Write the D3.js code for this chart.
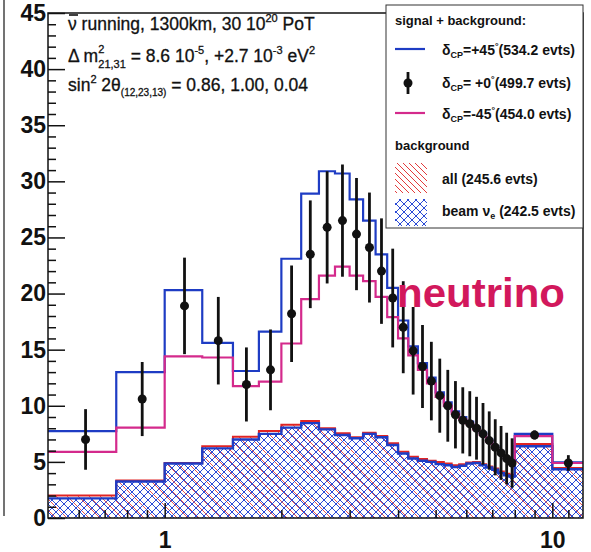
<!DOCTYPE html>
<html>
<head>
<meta charset="utf-8">
<script src="https://cdn.jsdelivr.net/npm/d3@7"></script>
<style>
  body { margin: 0; background: #fff; }
  svg { display: block; }
  text { font-family: "Liberation Sans", Arial, sans-serif; }
</style>
</head>
<body>
<div id="chart"></div>
<script>
// bin edges in GeV (0.25 wide up to 8, then 8-10, 10-12)
const binEdges = [0.5, 0.75, 1, 1.25, 1.5, 1.75, 2, 2.25, 2.5, 2.75, 3, 3.25, 3.5, 3.75,
  4, 4.25, 4.5, 4.75, 5, 5.25, 5.5, 5.75, 6, 6.25, 6.5, 6.75, 7, 7.25, 7.5, 7.75, 8, 10, 12];

// signal + background, delta_CP = +45 (blue)
const plus45 = [7.75, 13.0, 20.3, 15.6, 13.1, 16.6, 23.1, 28.9, 30.9, 30.7, 28.4, 26.5, 23.5, 20.5,
  17.6, 15.3, 13.8, 12.5, 11.2, 10.3, 9.5, 9.0, 8.6, 8.1, 7.6, 7.0, 6.4, 5.9, 5.4, 5.0, 7.5, 4.95];
// delta_CP = -45 (magenta)
const minus45 = [5.9, 8.05, 14.4, 14.3, 11.75, 12.15, 15.55, 19.5, 21.6, 22.4, 21.6, 21.1, 19.7, 17.9,
  16.0, 14.5, 13.2, 12.0, 10.8, 10.0, 9.3, 8.8, 8.4, 7.9, 7.4, 6.8, 6.2, 5.8, 5.3, 4.9, 7.3, 4.9];
// delta_CP = 0, points with error bars
const dataVals = [7.0, 10.6, 18.9, 15.8, 11.9, 13.2, 18.2, 23.5, 25.9, 26.5, 25.3, 24.1, 22.0, 19.6,
  17.0, 14.9, 13.5, 12.2, 10.9, 10.0, 9.2, 8.7, 8.4, 8.0, 7.5, 6.9, 6.3, 5.8, 5.3, 4.9, 7.4, 4.9];
const dataErr = [2.7, 3.3, 4.3, 3.9, 3.3, 3.6, 4.3, 4.8, 5.0, 5.0, 5.0, 4.9, 4.7, 4.4,
  4.1, 3.9, 3.7, 3.5, 3.3, 3.2, 3.0, 2.95, 2.9, 2.8, 2.75, 2.6, 2.5, 2.4, 2.3, 2.2, 0.4, 0.7];
// background: all (red) and beam nu_e (blue cross-hatch)
const bkgAll = [2.0, 3.35, 4.9, 6.4, 7.25, 7.75, 8.3, 8.65, 8.0, 7.55, 7.2, 7.6, 7.3, 6.65,
  5.9, 5.45, 5.25, 5.1, 5.0, 4.85, 4.7, 4.8, 4.95, 5.0, 4.8, 4.6, 4.4, 4.15, 3.95, 3.85, 6.6, 4.45];
const bkgBeam = [1.75, 3.25, 4.85, 6.2, 7.0, 7.5, 8.05, 8.45, 7.9, 7.4, 7.1, 7.5, 7.2, 6.5,
  5.75, 5.3, 5.1, 5.0, 4.8, 4.7, 4.55, 4.65, 4.85, 4.9, 4.7, 4.5, 4.3, 4.0, 3.8, 3.7, 6.4, 4.35];

const yTicks = [0, 5, 10, 15, 20, 25, 30, 35, 40, 45];
const xTickLabels = [1, 10];
const xMinorTicks = [0.6, 0.7, 0.8, 0.9, 2, 3, 4, 5, 6, 7, 8, 9, 11];
const signalLegend = ['+45', '+0', '-45'];
const signalEvts = ['534.2', '499.7', '454.0'];
const bkgEvts = ['245.6', '242.5'];

const BLUE = '#1e3cc4', MAGENTA = '#d42a8c', RED = '#e02424';

const svg = d3.select('#chart').append('svg')
  .attr('width', 591)
  .attr('height', 552);

const x = d3.scaleLog().domain([0.5, 12]).range([48, 583]);
const y = d3.scaleLinear().domain([0, 45]).range([518, 13]);

// hatch patterns
const defs = svg.append('defs');
function hatch(id, size, color, w, cross) {
  const p = defs.append('pattern')
    .attr('id', id)
    .attr('patternUnits', 'userSpaceOnUse')
    .attr('width', size).attr('height', size);
  let d = `M0,0L${size},${size}M-1,${size - 1}L1,${size + 1}M${size - 1},-1L${size + 1},1`;
  if (cross) d += `M${size},0L0,${size}M-1,1L1,-1M${size - 1},${size + 1}L${size + 1},${size - 1}`;
  p.append('path').attr('d', d).attr('stroke', color).attr('stroke-width', w).attr('fill', 'none');
}
hatch('hatchRed', 11, RED, 0.8, false);
hatch('hatchRedLeg', 6, RED, 0.9, false);
hatch('crossBlue', 8, '#2a4ad6', 1, true);

// left edge of the neighbouring panel
svg.append('line')
  .attr('x1', 4).attr('x2', 4).attr('y1', 0).attr('y2', 516)
  .attr('stroke', '#444').attr('stroke-width', 1.5);

const stepPts = vals => vals.flatMap((v, i) => [[binEdges[i], v], [binEdges[i + 1], v]]);
const line = d3.line().x(d => x(d[0])).y(d => y(d[1]));
const area = d3.area().x(d => x(d[0])).y0(y(0)).y1(d => y(d[1]));

const plot = svg.append('g');

// background fills
plot.append('path').attr('d', area(stepPts(bkgAll))).attr('fill', 'url(#hatchRed)');
plot.append('path').attr('d', area(stepPts(bkgBeam))).attr('fill', 'url(#crossBlue)');
plot.append('path').attr('d', line(stepPts(bkgAll)))
  .attr('fill', 'none').attr('stroke', RED).attr('stroke-width', 2);
plot.append('path').attr('d', line(stepPts(bkgBeam)))
  .attr('fill', 'none').attr('stroke', BLUE).attr('stroke-width', 2.4);

// signal + background histograms
plot.append('path').attr('d', line(stepPts(plus45)))
  .attr('fill', 'none').attr('stroke', BLUE).attr('stroke-width', 2.2);
plot.append('path').attr('d', line(stepPts(minus45)))
  .attr('fill', 'none').attr('stroke', MAGENTA).attr('stroke-width', 2.2);

// data points
const pts = dataVals.map((v, i) => ({ c: (binEdges[i] + binEdges[i + 1]) / 2, v, e: dataErr[i] }));
plot.selectAll('line.err')
  .data(pts)
  .enter().append('line')
  .attr('class', 'err')
  .attr('x1', d => x(d.c)).attr('x2', d => x(d.c))
  .attr('y1', d => y(d.v - d.e)).attr('y2', d => y(d.v + d.e))
  .attr('stroke', '#111').attr('stroke-width', 2.8);
plot.selectAll('circle.pt')
  .data(pts)
  .enter().append('circle')
  .attr('class', 'pt')
  .attr('cx', d => x(d.c)).attr('cy', d => y(d.v))
  .attr('r', 4.5).attr('fill', '#111');

// frame
svg.append('rect')
  .attr('x', 48).attr('y', 13).attr('width', 535).attr('height', 505)
  .attr('fill', 'none').attr('stroke', '#111').attr('stroke-width', 1.5);

// y axis: ticks point inward
svg.append('g').attr('transform', 'translate(48,0)')
  .call(d3.axisLeft(y).tickValues(yTicks).tickSize(-17).tickPadding(2));
svg.append('g').attr('transform', 'translate(48,0)')
  .call(d3.axisLeft(y).tickValues(d3.range(0, 46).filter(v => v % 5)).tickSize(-8).tickFormat(''));

// x axis
svg.append('g').attr('transform', 'translate(0,518)')
  .call(d3.axisBottom(x).tickValues(xTickLabels).tickSize(-15).tickPadding(14).tickFormat(d3.format('d')));
svg.append('g').attr('transform', 'translate(0,518)')
  .call(d3.axisBottom(x).tickValues(xMinorTicks).tickSize(-8).tickFormat(''));

svg.selectAll('.domain').remove();
svg.selectAll('.tick line').attr('stroke', '#111').attr('stroke-width', 1.5);
svg.selectAll('.tick text')
  .attr('font-size', 23).attr('font-weight', 'bold').attr('fill', '#111')
  .style('font-family', '"Liberation Sans", Arial, sans-serif');

// info text, top left
const info = svg.append('g').attr('fill', '#111').attr('stroke', '#111').attr('stroke-width', 0.3);
const t1 = info.append('text').attr('x', 68).attr('y', 30).attr('font-size', 17.5);
t1.append('tspan').text('ν running, 1300km, 30 10');
t1.append('tspan').attr('font-size', 11).attr('dy', -8).text('20');
t1.append('tspan').attr('dy', 8).text(' PoT');
info.append('line').attr('x1', 69).attr('x2', 78).attr('y1', 15).attr('y2', 15)
  .attr('stroke-width', 1.6);

const t2 = info.append('text').attr('x', 68).attr('y', 62).attr('font-size', 17.5);
t2.append('tspan').text('Δ m');
t2.append('tspan').attr('font-size', 11).attr('dy', -9).text('2');
t2.append('tspan').attr('font-size', 11).attr('dx', -6).attr('dy', 15).text('21,31');
t2.append('tspan').attr('dy', -6).text(' = 8.6 10');
t2.append('tspan').attr('font-size', 11).attr('dy', -8).text('-5');
t2.append('tspan').attr('dy', 8).text(', +2.7 10');
t2.append('tspan').attr('font-size', 11).attr('dy', -8).text('-3');
t2.append('tspan').attr('dy', 8).text(' eV');
t2.append('tspan').attr('font-size', 11).attr('dy', -8).text('2');

const t3 = info.append('text').attr('x', 68).attr('y', 91).attr('font-size', 17.5);
t3.append('tspan').text('sin');
t3.append('tspan').attr('font-size', 11).attr('dy', -8).text('2');
t3.append('tspan').attr('dy', 8).text(' 2θ');
t3.append('tspan').attr('font-size', 10).attr('dy', 5).text('(12,23,13)');
t3.append('tspan').attr('dy', -5).text(' = 0.86, 1.00, 0.04');

// legend
const leg = svg.append('g');
leg.append('rect')
  .attr('x', 386).attr('y', 5).attr('width', 197).attr('height', 223)
  .attr('fill', '#fff').attr('stroke', '#333').attr('stroke-width', 1);
leg.append('text').attr('x', 395).attr('y', 25)
  .attr('font-size', 13).attr('font-weight', 'bold').attr('fill', '#111')
  .text('signal + background:');

const rowY = [55, 88, 119];
signalLegend.forEach((s, i) => {
  const t = leg.append('text').attr('x', 442).attr('y', rowY[i])
    .attr('font-size', 14).attr('font-weight', 'bold').attr('fill', '#111');
  t.append('tspan').text('δ');
  t.append('tspan').attr('font-size', 9).attr('dy', 3).text('CP');
  t.append('tspan').attr('dy', -3).text('=' + (s === '+0' ? ' ' : '') + s);
  t.append('tspan').attr('font-size', 9).attr('dy', -6).text('°');
  t.append('tspan').attr('dy', 6).text('(' + signalEvts[i] + ' evts)');
});
leg.append('line').attr('x1', 395).attr('x2', 425).attr('y1', 49).attr('y2', 49)
  .attr('stroke', BLUE).attr('stroke-width', 2.2);
leg.append('line').attr('x1', 408).attr('x2', 408).attr('y1', 72).attr('y2', 94)
  .attr('stroke', '#111').attr('stroke-width', 2.8);
leg.append('circle').attr('cx', 408).attr('cy', 83).attr('r', 4.5).attr('fill', '#111');
leg.append('line').attr('x1', 395).attr('x2', 425).attr('y1', 113).attr('y2', 113)
  .attr('stroke', MAGENTA).attr('stroke-width', 2.2);

leg.append('text').attr('x', 395).attr('y', 150)
  .attr('font-size', 13).attr('font-weight', 'bold').attr('fill', '#111')
  .text('background');
leg.append('rect').attr('x', 395).attr('y', 163).attr('width', 32).attr('height', 30)
  .attr('fill', 'url(#hatchRedLeg)');
leg.append('rect').attr('x', 395).attr('y', 199).attr('width', 32).attr('height', 27)
  .attr('fill', 'url(#crossBlue)');
leg.append('text').attr('x', 442).attr('y', 184)
  .attr('font-size', 14).attr('font-weight', 'bold').attr('fill', '#111')
  .text('all (' + bkgEvts[0] + ' evts)');
const tb = leg.append('text').attr('x', 442).attr('y', 216)
  .attr('font-size', 14).attr('font-weight', 'bold').attr('fill', '#111');
tb.append('tspan').text('beam ν');
tb.append('tspan').attr('font-size', 9).attr('dy', 3).text('e');
tb.append('tspan').attr('dy', -3).text(' (' + bkgEvts[1] + ' evts)');

// big label
svg.append('text').attr('x', 397).attr('y', 307)
  .attr('font-size', 40).attr('font-weight', 'bold').attr('fill', '#d2185c')
  .attr('textLength', 168).attr('lengthAdjust', 'spacingAndGlyphs')
  .text('neutrino');
</script>
</body>
</html>
